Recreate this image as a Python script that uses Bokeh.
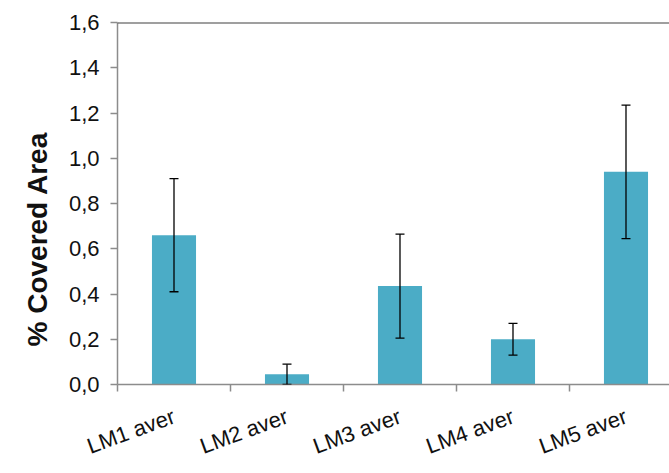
import math
from bokeh.plotting import figure
from bokeh.models import (ColumnDataSource, Whisker, TeeHead, FixedTicker,
                          CustomJSTickFormatter, Span, Range1d, Title)
from bokeh.embed import file_html
from bokeh.resources import INLINE

categories = ["LM1 aver", "LM2 aver", "LM3 aver", "LM4 aver", "LM5 aver"]
means = [0.66, 0.045, 0.435, 0.20, 0.94]
errors = [0.25, 0.045, 0.23, 0.07, 0.295]
y_ticks = [0.0, 0.2, 0.4, 0.6, 0.8, 1.0, 1.2, 1.4, 1.6]
y_title = "% Covered Area"

positions = [i + 0.5 for i in range(len(categories))]
boundaries = [float(i) for i in range(len(categories) + 1)]

src = ColumnDataSource(dict(
    x=positions,
    top=means,
    upper=[m + e for m, e in zip(means, errors)],
    lower=[max(m - e, 0.0) for m, e in zip(means, errors)],
))

FONT = "Liberation Sans"

p = figure(width=669, height=473, output_backend="svg", toolbar_location=None,
           x_range=Range1d(0, 4.885), y_range=Range1d(0, 1.6),
           min_border_left=117, min_border_right=0, min_border_top=22,
           min_border_bottom=78)
p.outline_line_color = None
p.xgrid.visible = False
p.ygrid.visible = False
p.background_fill_color = "white"
p.border_fill_color = "white"

p.vbar(x="x", top="top", width=0.39, bottom=0, source=src,
       fill_color="#4BACC6", line_color=None)

w = Whisker(base="x", upper="upper", lower="lower", source=src,
            line_color="black", line_width=1.3, level="overlay",
            upper_head=TeeHead(size=9, line_color="black", line_width=1.3),
            lower_head=TeeHead(size=9, line_color="black", line_width=1.3))
p.add_layout(w)

p.add_layout(Span(location=1.6, dimension="width", line_color="#404040",
                  line_width=2))

# y axis
ya = p.yaxis[0]
ya.ticker = FixedTicker(ticks=y_ticks)
ya.formatter = CustomJSTickFormatter(code="return tick.toFixed(1).replace('.', ',');")
ya.axis_line_color = "#8c8c8c"
ya.axis_line_width = 1.5
ya.major_tick_line_color = "#8c8c8c"
ya.major_tick_line_width = 1.5
ya.major_tick_out = 7
ya.major_tick_in = 0
ya.minor_tick_line_color = None
ya.major_label_text_font = FONT
ya.major_label_text_font_size = "22px"
ya.major_label_text_color = "#111111"
ya.major_label_standoff = 11

# y title, set off-centre towards the bottom as in the original
t = Title(text=y_title, align="left", offset=38, standoff=26,
          text_font=FONT, text_font_style="bold", text_font_size="28px",
          text_color="#111111")
p.add_layout(t, "left")

# x axis: boundary ticks (minor) and category names at centres (major)
xa = p.xaxis[0]
xa.ticker = FixedTicker(ticks=positions, minor_ticks=boundaries)
xa.major_label_overrides = {pos: lab for pos, lab in zip(positions, categories)}
xa.axis_line_color = "#8c8c8c"
xa.axis_line_width = 1.5
xa.major_tick_line_color = None
xa.major_tick_out = 0
xa.major_tick_in = 0
xa.minor_tick_line_color = "#8c8c8c"
xa.minor_tick_line_width = 1.5
xa.minor_tick_out = 7
xa.minor_tick_in = 0
xa.major_label_text_font = FONT
xa.major_label_text_font_size = "22px"
xa.major_label_text_color = "#111111"
xa.major_label_orientation = math.radians(20)
xa.major_label_standoff = 24

open("out.html", "w").write(file_html(p, INLINE))
